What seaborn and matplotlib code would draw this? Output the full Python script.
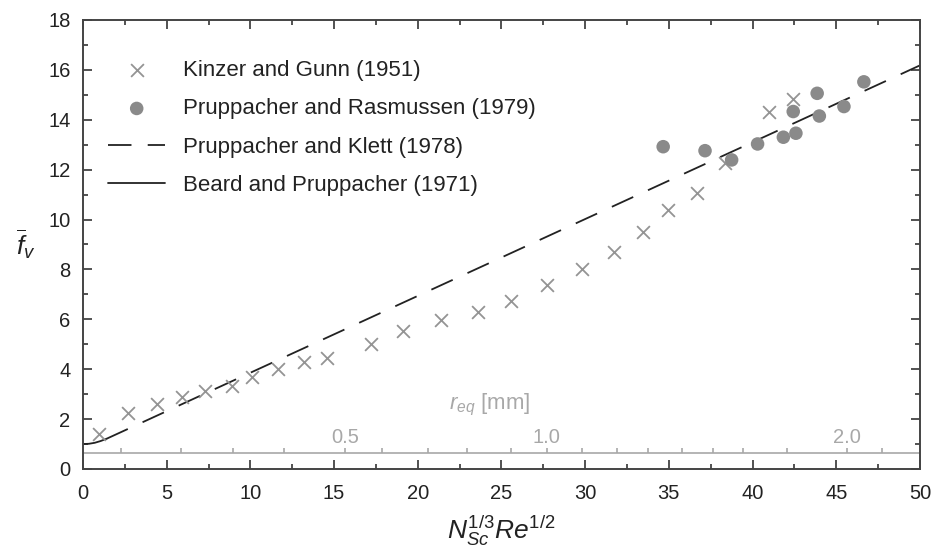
import numpy as np
import pandas as pd
import matplotlib
matplotlib.use("Agg")
import matplotlib.pyplot as plt
import seaborn as sns
from matplotlib.ticker import MultipleLocator

# ---- data ----
kg_x = [0.98, 2.71, 4.40, 5.89, 7.29, 8.88, 10.11, 11.67, 13.2, 14.56, 17.19, 19.14,
        21.37, 23.62, 25.57, 27.7, 29.79, 31.74, 33.43, 34.93, 36.66, 38.35, 41.0, 42.43]
kg_y = [1.39, 2.26, 2.61, 2.90, 3.14, 3.34, 3.68, 4.01, 4.29, 4.44, 5.01, 5.53,
        5.97, 6.31, 6.75, 7.38, 8.01, 8.69, 9.49, 10.38, 11.08, 12.26, 14.33, 14.82]
pr_x = [34.66, 37.16, 38.75, 40.30, 41.84, 42.59, 42.43, 43.86, 43.99, 45.46, 46.65]
pr_y = [12.92, 12.76, 12.39, 13.03, 13.30, 13.46, 14.33, 15.06, 14.15, 14.53, 15.52]
pk_x = [1.4, 50.0]
pk_y = [1.21, 16.18]
bp_x = [0.0, 0.35, 0.7, 1.05, 1.4]
bp_y = [1.00, 1.01, 1.05, 1.12, 1.21]

req_ticks = [2.25, 5.88, 8.98, 12.03, 15.65, 17.88, 20.63, 22.92, 25.55, 27.71,
             29.79, 31.88, 33.73, 35.76, 37.65, 39.41, 42.04, 45.66, 47.75]
req_label_text = ["0.5", "1.0", "2.0"]
req_label_pos = [15.65, 27.71, 45.66]
req_axis_y = 0.63

labels = ["Kinzer and Gunn (1951)", "Pruppacher and Rasmussen (1979)",
          "Pruppacher and Klett (1978)", "Beard and Pruppacher (1971)"]

# ---- style ----
sns.set_style("ticks")
plt.rcParams['font.family'] = ['Liberation Sans', 'DejaVu Sans']
plt.rcParams['mathtext.fontset'] = 'custom'
plt.rcParams['mathtext.rm'] = 'Liberation Sans'
plt.rcParams['mathtext.it'] = 'Liberation Sans:italic'
plt.rcParams['mathtext.default'] = 'it'

TXT = '#222222'
SP = '#444444'
GRAY = '#8e8e8e'
LGRAY = '#a8a8a8'

fig = plt.figure(figsize=(9.33, 5.52), dpi=100)
ax = fig.add_axes([0.089, 0.1504, 0.897, 0.8134])

sns.scatterplot(x=kg_x, y=kg_y, marker='x', s=85, color='#949494', linewidth=1.3,
                label=labels[0], ax=ax, zorder=3)
sns.scatterplot(x=pr_x, y=pr_y, marker='o', s=95, color='#8a8a8a', edgecolor='none',
                label=labels[1], ax=ax, zorder=3)
sns.lineplot(x=pk_x, y=pk_y, color=TXT, linewidth=1.3, linestyle=(0, (13, 9)),
             label=labels[2], ax=ax, zorder=2)
sns.lineplot(x=bp_x, y=bp_y, color=TXT, linewidth=1.3, linestyle='-',
             label=labels[3], ax=ax, zorder=2)

ax.set_xlim(0, 50)
ax.set_ylim(0, 18)
ax.xaxis.set_major_locator(MultipleLocator(5))
ax.xaxis.set_minor_locator(MultipleLocator(2.5))
ax.yaxis.set_major_locator(MultipleLocator(2))
ax.yaxis.set_minor_locator(MultipleLocator(1))
ax.tick_params(which='both', direction='in', top=True, right=True, color=SP,
               width=1.3, labelsize=14.5, labelcolor=TXT)
ax.tick_params(axis='x', which='both', pad=11)
ax.tick_params(axis='y', which='both', pad=9)
ax.tick_params(which='major', length=6.5)
ax.tick_params(which='minor', length=3.8)
for s in ax.spines.values():
    s.set_color(SP)
    s.set_linewidth(1.4)
    s.set_visible(True)

# secondary r_eq scale
ax.axhline(req_axis_y, color=LGRAY, lw=1.2, zorder=1)
ax.vlines(req_ticks, req_axis_y, req_axis_y + 0.2, color=LGRAY, lw=1.2, zorder=1)
for t, p in zip(req_label_text, req_label_pos):
    ax.text(p, 1.27, t, color=LGRAY, fontsize=14.5, ha='center', va='center')
ax.text(21.85, 2.55, r'$r_{eq}$ [mm]', color=LGRAY, fontsize=16, ha='left', va='center')

ax.set_xlabel(r'$N_{Sc}^{1/3}Re^{1/2}$', fontsize=19, color=TXT, va='top')
ax.xaxis.set_label_coords(0.5, -0.100)
ax.set_ylabel(r'$\overline{f}_v$', fontsize=19, color=TXT, rotation=0,
              ha='center', va='center')
ax.yaxis.set_label_coords(-0.068, 0.5)

leg = ax.legend(loc='upper left', bbox_to_anchor=(0.03, 0.911), frameon=False,
                fontsize=16, handlelength=2.57, handletextpad=0.81,
                labelspacing=0.78, borderpad=0, borderaxespad=0, labelcolor=TXT)

fig.savefig('out.png', dpi=100)
